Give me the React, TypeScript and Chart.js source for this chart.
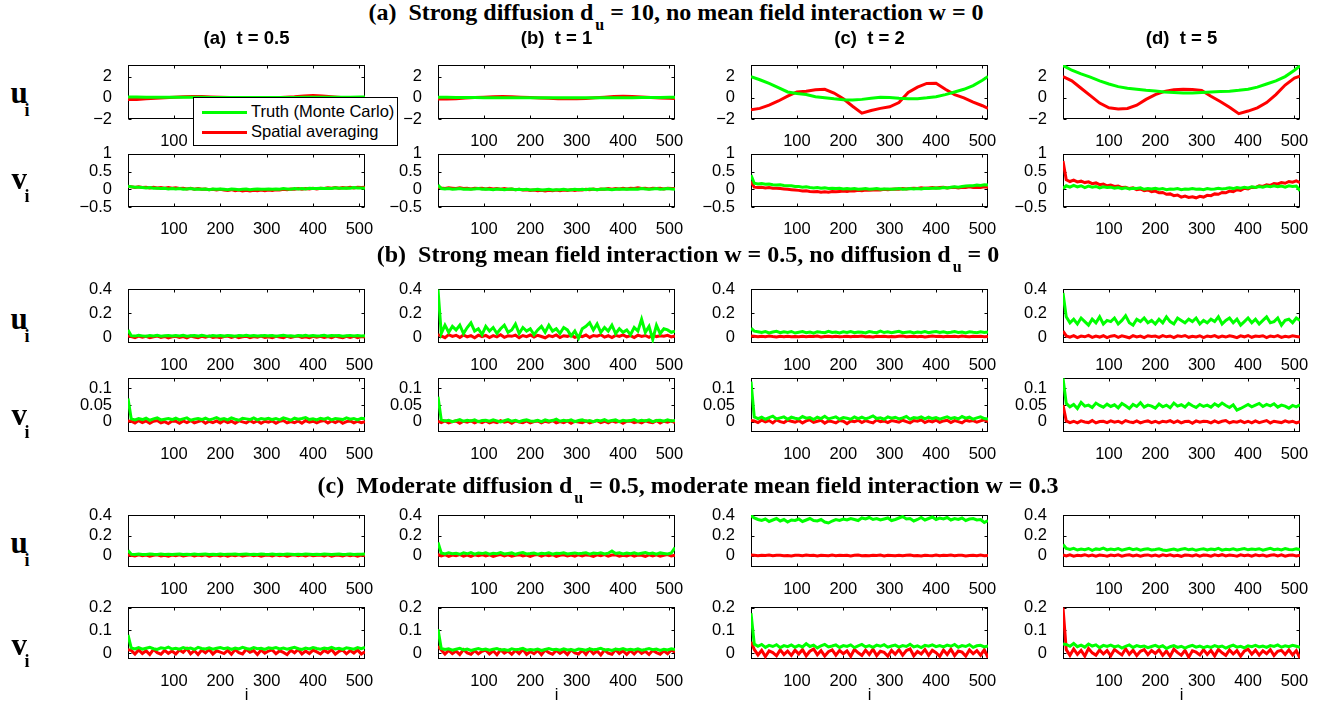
import React, { useEffect, useRef } from "react";
import { Chart, registerables } from "chart.js";

Chart.register(...registerables);

// ---------------- data ----------------
const X_SMOOTH = [1, 20, 40, 60, 80, 100, 120, 140, 160, 180, 200, 220, 240, 260, 280, 300, 320, 340, 360, 380, 400, 420, 440, 460, 480, 500, 512];
const X_NOISY = [
  1, 8, 16, 24, 32, 40, 48, 56, 64, 72, 80, 88, 96,
  104, 112, 120, 128, 136, 144, 152, 160, 168, 176, 184, 192, 200,
  208, 216, 224, 232, 240, 248, 256, 264, 272, 280, 288, 296, 304,
  312, 320, 328, 336, 344, 352, 360, 368, 376, 384, 392, 400, 408,
  416, 424, 432, 440, 448, 456, 464, 472, 480, 488, 496, 504, 512,
];
const X_TICKS = [100, 200, 300, 400, 500];
const SERIES_LABELS = ["Truth (Monte Carlo)", "Spatial averaging"];
const COL_TITLES = ["(a)  t = 0.5", "(b)  t = 1", "(c)  t = 2", "(d)  t = 5"];

// section (a): strong diffusion, u
const UA1_TRUTH = [0.08, 0.07, 0.06, 0.05, 0.05, 0.04, 0.04, 0.04, 0.04, 0.03, 0.03, 0.03, 0.02, 0.02, 0.02, 0.02, 0.03, 0.03, 0.03, 0.04, 0.04, 0.04, 0.05, 0.05, 0.06, 0.07, 0.08];
const UA1_SPAT = [-0.15, -0.15, -0.1, -0.05, 0, 0.05, 0.1, 0.12, 0.12, 0.08, 0.05, 0.02, 0, -0.02, -0.03, -0.02, 0, 0.05, 0.1, 0.18, 0.22, 0.18, 0.1, 0.02, -0.05, -0.08, -0.1];
const UA2_TRUTH = [0.05, 0.04, 0.03, 0.02, 0.02, 0.01, 0.01, 0.01, 0, 0, 0, 0, 0, 0, 0, 0, 0, 0, 0.01, 0.01, 0.01, 0.01, 0.02, 0.02, 0.03, 0.04, 0.05];
const UA2_SPAT = [-0.12, -0.12, -0.08, -0.03, 0.02, 0.06, 0.1, 0.12, 0.1, 0.06, 0.02, -0.02, -0.05, -0.08, -0.1, -0.09, -0.06, 0, 0.06, 0.12, 0.15, 0.12, 0.07, 0.02, -0.02, -0.05, -0.06];
const UA3_TRUTH = [2.0, 1.7, 1.35, 0.95, 0.55, 0.4, 0.3, 0.1, 0.0, -0.1, -0.18, -0.2, -0.15, -0.05, 0.05, 0.02, -0.05, -0.1, -0.08, 0.0, 0.1, 0.3, 0.55, 0.8, 1.15, 1.65, 2.0];
const UA3_SPAT = [-1.13, -1.0, -0.7, -0.3, 0.15, 0.55, 0.62, 0.75, 0.8, 0.45, -0.1, -0.8, -1.45, -1.2, -1.0, -0.85, -0.45, 0.5, 1.0, 1.35, 1.38, 0.8, 0.3, 0.0, -0.4, -0.75, -1.0];
const UA4_TRUTH = [3.05, 2.6, 2.25, 1.95, 1.6, 1.3, 1.05, 0.9, 0.8, 0.7, 0.65, 0.55, 0.5, 0.45, 0.45, 0.5, 0.55, 0.6, 0.62, 0.7, 0.8, 1.0, 1.3, 1.6, 2.0, 2.6, 3.0];
const UA4_SPAT = [2.0, 1.6, 0.9, 0.2, -0.5, -0.95, -1.05, -1.0, -0.7, -0.15, 0.3, 0.6, 0.75, 0.8, 0.78, 0.7, 0.15, -0.35, -0.9, -1.5, -1.25, -0.95, -0.45, 0.3, 1.2, 1.85, 2.05];

// section (a): v
const VA1_TRUTH = [
  0.09, 0.07, 0.06, 0.06, 0.05, 0.04, 0.05, 0.03, 0.03, 0.02, 0.03, 0.01, 0.02,
  0.01, 0.02, 0.0, 0.01, 0.02, 0.0, 0.01, 0.0, 0.01, -0.01, 0.01, 0.0, 0.01,
  0.0, -0.01, 0.01, 0.0, -0.01, 0.0, 0.01, -0.01, 0.0, 0.01, 0.0, 0.0, 0.01,
  0.0, 0.01, 0.0, 0.02, 0.01, 0.0, 0.02, 0.01, 0.02, 0.01, 0.03, 0.02, 0.02,
  0.03, 0.02, 0.03, 0.02, 0.04, 0.03, 0.03, 0.04, 0.03, 0.05, 0.04, 0.04, 0.03,
];
const VA1_SPAT = [
  0.08, 0.07, 0.05, 0.07, 0.05, 0.06, 0.04, 0.06, 0.04, 0.05, 0.03, 0.05, 0.03,
  0.04, 0.02, 0.03, 0.01, 0.03, 0.0, 0.02, 0.0, 0.01, -0.01, 0.0, -0.02, 0.0,
  -0.02, -0.03, -0.01, -0.04, -0.02, -0.05, -0.03, -0.05, -0.03, -0.04, -0.02, -0.04, -0.02,
  -0.03, -0.01, -0.02, 0.0, -0.01, 0.01, 0.0, 0.02, 0.0, 0.02, 0.01, 0.03, 0.01,
  0.03, 0.02, 0.04, 0.03, 0.05, 0.03, 0.05, 0.04, 0.06, 0.04, 0.06, 0.05, 0.06,
];
const VA2_TRUTH = [
  0.12, 0.02, 0.01, 0.02, 0.0, 0.01, 0.02, 0.0, 0.01, 0.0, 0.01, 0.02, 0.0,
  0.01, 0.0, -0.01, 0.01, 0.0, -0.01, 0.0, 0.01, -0.01, 0.0, -0.01, 0.0, -0.02,
  -0.01, 0.0, -0.02, -0.01, 0.0, -0.02, -0.01, -0.01, 0.0, -0.02, -0.01, 0.0, -0.01,
  0.0, -0.01, 0.01, 0.0, -0.01, 0.0, 0.01, 0.0, -0.01, 0.0, 0.01, 0.0, 0.01,
  0.0, 0.01, 0.0, 0.02, 0.01, 0.0, 0.01, 0.02, 0.0, 0.01, 0.02, 0.01, 0.0,
];
const VA2_SPAT = [
  0.06, 0.04, 0.02, 0.04, 0.03, 0.02, 0.04, 0.02, 0.03, 0.01, 0.03, 0.02, 0.03,
  0.01, 0.03, 0.01, 0.02, 0.0, 0.02, 0.0, 0.01, -0.01, 0.0, -0.02, -0.01, -0.03,
  -0.02, -0.04, -0.03, -0.05, -0.03, -0.04, -0.02, -0.04, -0.02, -0.03, -0.01, -0.03, -0.01,
  -0.02, 0.0, -0.01, 0.01, -0.01, 0.01, 0.0, 0.02, 0.0, 0.02, 0.01, 0.03, 0.01,
  0.03, 0.02, 0.04, 0.02, 0.03, 0.01, 0.03, 0.02, 0.03, 0.01, 0.03, 0.02, 0.02,
];
const VA3_TRUTH = [
  0.4, 0.17, 0.15, 0.16, 0.14, 0.15, 0.13, 0.12, 0.13, 0.11, 0.1, 0.1, 0.08,
  0.08, 0.06, 0.07, 0.05, 0.04, 0.05, 0.03, 0.04, 0.02, 0.03, 0.02, 0.03, 0.01,
  0.02, 0.01, 0.02, 0.0, 0.01, 0.02, 0.0, 0.01, 0.02, 0.0, 0.01, 0.01, 0.0,
  0.01, 0.02, 0.0, 0.01, 0.02, 0.01, 0.02, 0.01, 0.03, 0.02, 0.03, 0.04, 0.03,
  0.05, 0.04, 0.06, 0.07, 0.06, 0.08, 0.09, 0.1, 0.1, 0.12, 0.11, 0.13, 0.12,
];
const VA3_SPAT = [
  0.22, 0.06, 0.05, 0.06, 0.04, 0.05, 0.03, 0.03, 0.02, 0.01, 0.0, -0.01, -0.02,
  -0.03, -0.05, -0.04, -0.06, -0.07, -0.06, -0.08, -0.07, -0.08, -0.06, -0.07, -0.06, -0.05,
  -0.06, -0.04, -0.05, -0.03, -0.04, -0.02, -0.03, -0.02, -0.01, -0.02, 0.0, -0.01, 0.0,
  0.01, 0.0, 0.02, 0.01, 0.02, 0.03, 0.02, 0.04, 0.03, 0.04, 0.05, 0.04, 0.05,
  0.06, 0.04, 0.05, 0.06, 0.04, 0.06, 0.05, 0.07, 0.05, 0.06, 0.05, 0.07, 0.06,
];
const VA4_TRUTH = [
  0.02, 0.1, 0.06, 0.11, 0.07, 0.1, 0.05, 0.09, 0.06, 0.08, 0.04, 0.07, 0.05,
  0.06, 0.03, 0.05, 0.02, 0.04, 0.01, 0.03, 0.02, 0.04, 0.0, 0.02, 0.01, 0.03,
  0.0, 0.02, -0.01, 0.01, 0.0, 0.02, -0.01, 0.01, 0.0, 0.02, 0.0, 0.01, -0.01,
  0.02, 0.0, 0.01, 0.03, 0.01, 0.02, 0.04, 0.02, 0.05, 0.03, 0.06, 0.04, 0.07,
  0.05, 0.08, 0.06, 0.09, 0.07, 0.1, 0.07, 0.09, 0.06, 0.1, 0.08, 0.09, -0.04,
];
const VA4_SPAT = [
  0.8, 0.27, 0.22, 0.26, 0.21, 0.23, 0.19, 0.21, 0.16, 0.18, 0.13, 0.15, 0.1,
  0.12, 0.08, 0.09, 0.05, 0.06, 0.02, 0.04, -0.01, 0.01, -0.04, -0.02, -0.07, -0.05,
  -0.1, -0.09, -0.14, -0.13, -0.18, -0.16, -0.22, -0.19, -0.23, -0.21, -0.24, -0.2, -0.22,
  -0.17, -0.18, -0.13, -0.14, -0.09, -0.1, -0.05, -0.07, -0.01, -0.03, 0.03, 0.01, 0.06,
  0.05, 0.1, 0.08, 0.13, 0.11, 0.16, 0.15, 0.19, 0.17, 0.22, 0.2, 0.24, 0.19,
];

// section (b): strong mean field, u
const UB1_TRUTH = [
  0.06, 0.012, 0.008, 0.014, 0.01, 0.006, 0.012, 0.009, 0.015, 0.007, 0.011, 0.013, 0.008,
  0.012, 0.009, 0.014, 0.007, 0.011, 0.013, 0.008, 0.015, 0.01, 0.006, 0.012, 0.009, 0.013,
  0.008, 0.014, 0.011, 0.007, 0.012, 0.01, 0.015, 0.009, 0.013, 0.008, 0.011, 0.014, 0.01,
  0.013, 0.007, 0.012, 0.015, 0.009, 0.011, 0.006, 0.013, 0.01, 0.014, 0.008, 0.012, 0.009,
  0.011, 0.015, 0.008, 0.012, 0.01, 0.013, 0.007, 0.011, 0.014, 0.009, 0.012, 0.008, 0.01,
];
const UB1_SPAT = [
  0.01, 0.004, -0.005, 0.008, -0.002, 0.006, -0.006, 0.003, 0.009, -0.004, 0.005, -0.007, 0.002,
  0.007, -0.003, 0.005, -0.006, 0.008, 0.0, -0.005, 0.006, -0.002, 0.009, -0.004, 0.003, -0.006,
  0.004, 0.008, -0.003, 0.006, -0.005, 0.002, 0.007, -0.006, 0.005, -0.002, 0.008, -0.004, 0.003,
  -0.005, 0.006, 0.001, -0.006, 0.007, -0.003, 0.005, 0.008, -0.004, 0.002, -0.006, 0.006, -0.002,
  0.007, -0.004, 0.004, -0.006, 0.008, 0.0, -0.005, 0.006, -0.003, 0.007, -0.005, 0.004, 0.001,
];
const UB2_TRUTH = [
  0.4, 0.03, 0.1, 0.04, 0.09, 0.06, 0.1, 0.03, 0.08, 0.12, 0.05, 0.07, 0.02,
  0.09, 0.05, 0.08, 0.03, 0.07, 0.1, 0.04, 0.06, 0.11, 0.03, 0.08, 0.05, 0.07,
  0.02, 0.06, 0.09, 0.04, 0.1, 0.05, 0.07, 0.03, 0.08, 0.06, 0.01, 0.05, -0.01,
  0.07, 0.09, 0.12, 0.06, 0.11, 0.04, 0.08, 0.05, 0.1, 0.03, 0.07, 0.04, 0.06,
  0.02, 0.08, 0.05, 0.15, 0.04, 0.09, -0.02, 0.1, 0.03, 0.07, 0.06, 0.04, 0.05,
];
const UB2_SPAT = [
  0.02, 0.01, -0.005, 0.02, 0.005, 0.015, -0.003, 0.018, 0.002, 0.012, -0.006, 0.016, 0.004,
  0.014, -0.004, 0.012, 0.002, 0.019, -0.002, 0.01, 0.006, 0.016, -0.005, 0.013, 0.003, 0.017,
  0.0, 0.015, 0.005, -0.006, 0.012, 0.003, 0.018, -0.004, 0.011, 0.006, 0.016, -0.002, 0.009,
  0.004, 0.017, -0.003, 0.013, 0.007, 0.019, 0.0, 0.011, -0.005, 0.014, 0.005, 0.018, 0.002,
  0.012, -0.004, 0.016, 0.006, 0.013, -0.002, 0.017, 0.004, 0.011, 0.007, 0.015, 0.001, 0.01,
];
const UB3_TRUTH = [
  0.075, 0.05, 0.045, 0.038, 0.046, 0.035, 0.042, 0.048, 0.036, 0.044, 0.039, 0.047, 0.034,
  0.041, 0.046, 0.037, 0.043, 0.032, 0.045, 0.04, 0.036, 0.048, 0.038, 0.042, 0.035, 0.044,
  0.039, 0.047, 0.036, 0.043, 0.04, 0.034, 0.046, 0.041, 0.037, 0.05, 0.038, 0.044, 0.036,
  0.042, 0.048, 0.037, 0.041, 0.045, 0.035, 0.043, 0.039, 0.046, 0.036, 0.042, 0.047, 0.038,
  0.044, 0.036, 0.041, 0.047, 0.039, 0.043, 0.035, 0.045, 0.04, 0.037, 0.044, 0.038, 0.042,
];
const UB3_SPAT = [
  0.008, 0.006, 0.002, 0.007, 0.003, 0.008, 0.004, 0.001, 0.006, 0.003, 0.007, 0.002, 0.005,
  0.003, 0.007, 0.002, 0.006, 0.004, 0.008, 0.001, 0.005, 0.007, 0.003, 0.006, 0.002, 0.004,
  0.007, 0.002, 0.006, 0.004, 0.008, 0.003, 0.005, 0.001, 0.007, 0.004, 0.006, 0.002, 0.005,
  0.003, 0.006, 0.008, 0.002, 0.005, 0.007, 0.003, 0.006, 0.001, 0.005, 0.008, 0.004, 0.006,
  0.002, 0.007, 0.004, 0.006, 0.003, 0.008, 0.005, 0.002, 0.006, 0.004, 0.007, 0.003, 0.005,
];
const UB4_TRUTH = [
  0.37, 0.17, 0.12, 0.15, 0.11, 0.16, 0.13, 0.1, 0.15, 0.12, 0.17, 0.11, 0.14,
  0.13, 0.16, 0.11, 0.14, 0.18, 0.12, 0.1, 0.15, 0.13, 0.16, 0.12, 0.14, 0.11,
  0.15, 0.12, 0.17, 0.13, 0.11, 0.16, 0.14, 0.12, 0.15, 0.13, 0.16, 0.11, 0.14,
  0.12, 0.15, 0.13, 0.17, 0.11, 0.14, 0.16, 0.12, 0.15, 0.1, 0.13, 0.16, 0.12,
  0.15, 0.11, 0.14, 0.17, 0.12, 0.13, 0.16, 0.1, 0.14, 0.15, 0.12, 0.16, 0.14,
];
const UB4_SPAT = [
  0.05, 0.01, 0.0, 0.012, -0.004, 0.008, 0.002, 0.014, -0.003, 0.009, 0.0, 0.011, -0.005,
  0.007, 0.013, -0.002, 0.01, 0.003, -0.006, 0.012, 0.001, 0.008, -0.004, 0.011, 0.004, 0.009,
  -0.003, 0.012, 0.002, 0.009, -0.005, 0.01, 0.004, 0.013, -0.002, 0.007, 0.001, 0.011, -0.004,
  0.009, 0.003, 0.012, -0.003, 0.008, 0.0, 0.011, 0.005, -0.005, 0.01, 0.002, 0.013, -0.002,
  0.008, 0.004, 0.011, -0.004, 0.009, 0.002, 0.012, -0.003, 0.007, 0.001, 0.01, 0.005, 0.0,
];

// section (b): v
const VB1_TRUTH = [
  0.07, 0.009, 0.006, 0.01, 0.007, 0.011, 0.005, 0.009, 0.012, 0.006, 0.008, 0.01, 0.007,
  0.011, 0.006, 0.009, 0.012, 0.005, 0.008, 0.01, 0.007, 0.011, 0.006, 0.009, 0.013, 0.007,
  0.01, 0.006, 0.012, 0.008, 0.005, 0.011, 0.009, 0.007, 0.012, 0.006, 0.01, 0.008, 0.011,
  0.007, 0.01, 0.006, 0.012, 0.009, 0.005, 0.011, 0.008, 0.01, 0.013, 0.007, 0.009, 0.006,
  0.011, 0.008, 0.012, 0.006, 0.01, 0.009, 0.007, 0.012, 0.008, 0.01, 0.006, 0.011, 0.009,
];
const VB1_SPAT = [
  0.003, 0.002, -0.003, 0.004, -0.002, 0.003, -0.004, 0.002, 0.004, -0.003, 0.001, -0.005, 0.003,
  0.002, -0.004, 0.003, -0.002, 0.004, -0.003, 0.001, 0.004, -0.004, 0.002, -0.002, 0.003, -0.003,
  0.004, -0.002, 0.002, -0.004, 0.003, 0.0, -0.003, 0.004, -0.002, 0.003, -0.004, 0.002, -0.001,
  0.003, -0.004, 0.002, 0.004, -0.003, 0.001, -0.002, 0.003, -0.004, 0.004, -0.001, 0.002, -0.003,
  0.002, 0.004, -0.003, 0.003, -0.002, 0.004, -0.004, 0.001, 0.003, -0.003, 0.002, -0.002, 0.001,
];
const VB2_TRUTH = [
  0.075, 0.006, 0.003, 0.005, 0.001, 0.004, 0.007, 0.002, 0.005, 0.003, 0.006, 0.001, 0.004,
  0.005, 0.002, 0.006, 0.003, 0.0, 0.004, 0.007, 0.002, 0.005, 0.001, 0.004, 0.006, 0.003,
  0.002, 0.005, 0.001, 0.006, 0.003, 0.004, 0.008, 0.002, 0.005, 0.003, 0.006, 0.001, 0.004,
  0.006, 0.002, 0.004, 0.001, 0.005, 0.003, 0.007, 0.002, 0.004, 0.006, 0.001, 0.005, 0.003,
  0.004, 0.007, 0.002, 0.005, 0.003, 0.006, 0.001, 0.004, 0.005, 0.002, 0.006, 0.003, 0.004,
];
const VB2_SPAT = [
  0.002, -0.002, 0.003, -0.003, 0.001, 0.003, -0.004, 0.002, -0.001, 0.003, -0.003, 0.002, -0.002,
  0.003, -0.003, 0.001, -0.002, 0.004, -0.001, 0.002, -0.004, 0.003, 0.0, -0.002, 0.003, -0.003,
  0.001, 0.003, -0.003, 0.002, -0.001, 0.004, -0.003, 0.001, -0.002, 0.003, -0.004, 0.002, 0.0,
  -0.002, 0.003, -0.003, 0.001, 0.004, -0.002, 0.002, -0.003, 0.003, -0.001, 0.002, -0.004, 0.002,
  0.003, -0.002, 0.001, -0.003, 0.003, 0.0, -0.002, 0.004, -0.003, 0.002, -0.001, 0.003, -0.002,
];
const VB3_TRUTH = [
  0.12, 0.015, 0.01, 0.014, 0.008, 0.013, 0.017, 0.009, 0.012, 0.015, 0.008, 0.014, 0.011,
  0.009, 0.016, 0.011, 0.013, 0.007, 0.014, 0.01, 0.017, 0.009, 0.012, 0.015, 0.008, 0.013,
  0.011, 0.008, 0.015, 0.01, 0.014, 0.009, 0.013, 0.018, 0.01, 0.012, 0.008, 0.015, 0.011,
  0.014, 0.009, 0.012, 0.016, 0.008, 0.013, 0.011, 0.015, 0.009, 0.014, 0.01, 0.013, 0.008,
  0.012, 0.015, 0.01, 0.013, 0.009, 0.016, 0.011, 0.014, 0.008, 0.012, 0.015, 0.01, 0.009,
];
const VB3_SPAT = [
  0.004, 0.003, -0.002, 0.005, 0.0, 0.004, -0.003, 0.006, 0.001, -0.002, 0.005, 0.002, -0.001,
  0.004, -0.003, 0.003, 0.006, -0.001, 0.002, 0.005, -0.004, 0.003, 0.001, -0.003, 0.004, 0.002,
  -0.005, 0.003, 0.001, 0.005, -0.002, 0.004, 0.0, -0.003, 0.006, 0.001, 0.003, -0.002, 0.004,
  0.002, -0.001, 0.005, 0.001, -0.003, 0.004, 0.002, 0.006, -0.002, 0.003, 0.0, 0.005, -0.001,
  0.003, 0.005, -0.002, 0.004, 0.001, -0.003, 0.005, 0.002, 0.004, -0.001, 0.003, 0.006, 0.001,
];
const VB4_TRUTH = [
  0.13, 0.055, 0.045, 0.052, 0.04, 0.058, 0.047, 0.05, 0.043, 0.056, 0.049, 0.044, 0.053,
  0.046, 0.051, 0.042, 0.055, 0.048, 0.04, 0.052, 0.046, 0.057, 0.044, 0.05, 0.047, 0.041,
  0.053, 0.045, 0.05, 0.042, 0.056, 0.047, 0.051, 0.044, 0.055, 0.048, 0.043, 0.052, 0.046,
  0.05, 0.044, 0.054, 0.047, 0.056, 0.049, 0.043, 0.051, 0.035, 0.04, 0.046, 0.052, 0.045,
  0.05, 0.055, 0.046, 0.052, 0.048, 0.054, 0.044, 0.05, 0.047, 0.041, 0.049, 0.045, 0.051,
];
const VB4_SPAT = [
  0.05, 0.003, -0.002, 0.002, -0.003, 0.003, 0.0, -0.002, 0.004, -0.003, 0.001, 0.002, -0.002,
  0.003, -0.001, 0.002, -0.003, 0.004, 0.0, -0.002, 0.003, -0.003, 0.001, 0.003, -0.002, 0.002,
  -0.003, 0.002, 0.0, 0.004, -0.002, 0.003, -0.003, 0.001, 0.002, -0.004, 0.003, -0.001, 0.002,
  0.001, -0.003, 0.003, -0.002, 0.002, 0.004, -0.003, 0.001, -0.001, 0.003, -0.002, 0.002, -0.003,
  0.003, -0.002, 0.001, 0.004, -0.003, 0.002, 0.0, -0.002, 0.003, -0.001, 0.002, -0.003, 0.001,
];

// section (c): moderate diffusion + mean field, u
const UC1_TRUTH = [
  0.05, 0.013, 0.01, 0.014, 0.011, 0.009, 0.015, 0.012, 0.01, 0.014, 0.011, 0.013, 0.009,
  0.012, 0.015, 0.01, 0.013, 0.011, 0.014, 0.009, 0.012, 0.015, 0.01, 0.013, 0.011, 0.014,
  0.01, 0.013, 0.012, 0.015, 0.009, 0.012, 0.014, 0.011, 0.013, 0.01, 0.015, 0.012, 0.011,
  0.014, 0.01, 0.013, 0.011, 0.015, 0.012, 0.009, 0.013, 0.011, 0.014, 0.012, 0.01, 0.013,
  0.011, 0.014, 0.012, 0.01, 0.013, 0.015, 0.011, 0.012, 0.014, 0.01, 0.013, 0.012, 0.014,
];
const UC1_SPAT = [
  0.006, 0.003, -0.005, 0.006, -0.002, 0.004, -0.006, 0.002, 0.007, -0.004, 0.003, -0.007, 0.005,
  -0.003, 0.006, -0.005, 0.002, 0.007, -0.004, 0.004, -0.002, 0.006, -0.006, 0.003, 0.005, -0.004,
  0.004, -0.006, 0.005, -0.002, 0.007, -0.005, 0.002, 0.006, -0.003, 0.004, -0.007, 0.003, 0.005,
  -0.004, 0.006, -0.002, 0.005, -0.006, 0.003, 0.007, -0.003, 0.004, -0.005, 0.006, -0.002, 0.003,
  0.005, -0.004, 0.006, -0.006, 0.003, 0.002, -0.005, 0.006, -0.002, 0.004, -0.006, 0.005, 0.0,
];
const UC2_TRUTH = [
  0.13, 0.025, 0.015, 0.028, 0.018, 0.022, 0.012, 0.026, 0.017, 0.03, 0.014, 0.024, 0.019,
  0.027, 0.013, 0.023, 0.018, 0.029, 0.015, 0.021, 0.026, 0.012, 0.024, 0.03, 0.016, 0.02,
  0.025, 0.014, 0.022, 0.018, 0.027, 0.013, 0.023, 0.02, 0.028, 0.015, 0.021, 0.026, 0.017,
  0.022, 0.028, 0.014, 0.024, 0.019, 0.027, 0.015, 0.023, 0.045, 0.02, 0.026, 0.016, 0.024,
  0.018, 0.027, 0.015, 0.022, 0.029, 0.017, 0.024, 0.013, 0.026, 0.021, 0.016, 0.025, 0.08,
];
const UC2_SPAT = [
  0.01, -0.004, 0.008, -0.008, 0.005, -0.002, 0.009, -0.006, 0.004, -0.009, 0.006, -0.003, 0.008,
  -0.005, 0.007, -0.008, 0.003, 0.009, -0.004, 0.006, -0.007, 0.002, 0.008, -0.005, 0.005, -0.009,
  0.004, 0.009, -0.006, 0.006, -0.003, 0.008, -0.008, 0.003, 0.007, -0.005, 0.005, -0.007, 0.008,
  -0.004, 0.006, 0.002, -0.008, 0.007, -0.003, 0.009, -0.006, 0.004, 0.006, -0.007, 0.003, -0.004,
  0.008, -0.006, 0.005, 0.002, -0.008, 0.007, -0.004, 0.006, -0.007, 0.003, 0.009, -0.005, 0.004,
];
const UC3_TRUTH = [
  0.4, 0.375, 0.36, 0.35, 0.365, 0.34, 0.355, 0.37, 0.345, 0.36, 0.335, 0.355, 0.35,
  0.365, 0.34, 0.355, 0.37, 0.35, 0.345, 0.36, 0.335, 0.325, 0.345, 0.36, 0.35, 0.365,
  0.355, 0.37, 0.36, 0.35, 0.375, 0.365, 0.38, 0.36, 0.37, 0.355, 0.365, 0.375, 0.35,
  0.36, 0.375, 0.39, 0.365, 0.37, 0.345, 0.36, 0.38, 0.355, 0.37, 0.385, 0.36, 0.375,
  0.365, 0.38, 0.355, 0.37, 0.36, 0.375, 0.35, 0.365, 0.37, 0.355, 0.36, 0.33, 0.35,
];
const UC3_SPAT = [
  0.004, 0.002, -0.003, 0.003, -0.001, 0.004, -0.003, 0.002, 0.003, -0.002, 0.001, -0.004, 0.003,
  0.002, -0.003, 0.004, -0.001, 0.003, -0.004, 0.002, 0.0, -0.003, 0.004, -0.002, 0.003, -0.001,
  0.003, -0.004, 0.002, 0.004, -0.002, 0.001, -0.003, 0.003, -0.001, 0.004, -0.004, 0.002, 0.0,
  -0.002, 0.003, -0.003, 0.002, 0.004, -0.002, 0.001, -0.004, 0.003, 0.0, -0.002, 0.004, -0.003,
  0.002, -0.001, 0.004, -0.003, 0.002, 0.003, -0.004, 0.001, 0.003, -0.002, 0.004, -0.003, 0.001,
];
const UC4_TRUTH = [
  0.11, 0.07, 0.06, 0.072, 0.055, 0.065, 0.058, 0.07, 0.052, 0.066, 0.06, 0.073, 0.056,
  0.064, 0.057, 0.069, 0.053, 0.062, 0.071, 0.058, 0.066, 0.054, 0.063, 0.068, 0.056, 0.061,
  0.067, 0.055, 0.05, 0.058, 0.064, 0.053, 0.062, 0.07, 0.057, 0.065, 0.052, 0.061, 0.068,
  0.056, 0.064, 0.059, 0.071, 0.054, 0.063, 0.058, 0.067, 0.055, 0.062, 0.07, 0.057, 0.065,
  0.06, 0.068, 0.054, 0.063, 0.071, 0.058, 0.065, 0.056, 0.069, 0.061, 0.057, 0.066, 0.06,
];
const UC4_SPAT = [
  0.006, -0.004, 0.007, -0.006, 0.003, -0.002, 0.008, -0.005, 0.004, -0.007, 0.005, 0.001, -0.006,
  0.005, -0.003, 0.007, -0.006, 0.002, 0.008, -0.004, 0.005, -0.007, 0.003, 0.006, -0.005, 0.004,
  -0.006, 0.006, -0.002, 0.007, -0.005, 0.003, -0.008, 0.005, 0.002, -0.004, 0.007, -0.006, 0.004,
  0.003, -0.007, 0.006, -0.003, 0.008, -0.005, 0.004, 0.001, -0.006, 0.007, -0.003, 0.005, -0.007,
  0.006, -0.002, 0.005, -0.006, 0.003, 0.007, -0.004, 0.006, -0.007, 0.002, 0.005, -0.005, 0.003,
];

// section (c): v
const VC1_TRUTH = [
  0.08, 0.022, 0.018, 0.024, 0.017, 0.021, 0.025, 0.019, 0.016, 0.023, 0.02, 0.026, 0.018,
  0.021, 0.017, 0.024, 0.019, 0.022, 0.016, 0.025, 0.02, 0.018, 0.023, 0.017, 0.021, 0.024,
  0.019, 0.023, 0.016, 0.022, 0.018, 0.025, 0.02, 0.017, 0.024, 0.019, 0.021, 0.016, 0.023,
  0.02, 0.024, 0.018, 0.022, 0.017, 0.021, 0.025, 0.019, 0.016, 0.022, 0.018, 0.024, 0.02,
  0.017, 0.022, 0.019, 0.025, 0.018, 0.021, 0.016, 0.023, 0.02, 0.017, 0.024, 0.019, 0.025,
];
const VC1_SPAT = [
  0.015, 0.012, -0.004, 0.014, -0.002, 0.01, -0.006, 0.016, 0.002, -0.005, 0.012, -0.001, 0.009,
  -0.004, 0.014, 0.003, 0.02, -0.003, 0.011, -0.006, 0.013, 0.001, 0.016, -0.004, 0.01, 0.004,
  -0.002, 0.012, -0.005, 0.015, 0.002, -0.004, 0.017, 0.004, 0.011, -0.006, 0.013, 0.0, 0.009,
  0.014, -0.003, 0.01, 0.003, -0.007, 0.012, 0.001, 0.016, -0.004, 0.009, -0.002, 0.013, 0.005,
  -0.004, 0.012, 0.002, 0.015, -0.005, 0.008, 0.013, -0.003, 0.011, 0.0, 0.014, -0.004, 0.006,
];
const VC2_TRUTH = [
  0.105, 0.02, 0.016, 0.019, 0.013, 0.017, 0.021, 0.014, 0.018, 0.012, 0.016, 0.02, 0.015,
  0.018, 0.013, 0.017, 0.02, 0.014, 0.016, 0.012, 0.019, 0.015, 0.017, 0.021, 0.013, 0.016,
  0.014, 0.018, 0.012, 0.016, 0.02, 0.015, 0.017, 0.013, 0.019, 0.014, 0.016, 0.012, 0.018,
  0.016, 0.013, 0.019, 0.015, 0.017, 0.021, 0.014, 0.016, 0.012, 0.018, 0.015, 0.02, 0.014,
  0.017, 0.014, 0.019, 0.013, 0.016, 0.02, 0.015, 0.018, 0.012, 0.017, 0.014, 0.019, 0.016,
];
const VC2_SPAT = [
  0.03, 0.014, -0.004, 0.012, -0.002, 0.009, -0.006, 0.015, 0.001, -0.005, 0.011, -0.003, 0.008,
  0.013, -0.004, 0.01, -0.007, 0.014, 0.0, 0.009, -0.005, 0.012, -0.002, 0.016, -0.006, 0.007,
  -0.003, 0.011, -0.007, 0.013, 0.002, -0.005, 0.012, -0.001, 0.009, -0.006, 0.014, 0.001, -0.004,
  0.012, -0.006, 0.016, -0.003, 0.009, -0.008, 0.013, 0.0, -0.005, 0.015, -0.002, 0.01, -0.006,
  0.011, -0.004, 0.013, -0.001, 0.008, -0.006, 0.012, 0.002, -0.005, 0.01, -0.003, 0.014, 0.004,
];
const VC3_TRUTH = [
  0.175, 0.04, 0.03, 0.038, 0.025, 0.034, 0.029, 0.037, 0.024, 0.033, 0.028, 0.036, 0.026,
  0.034, 0.027, 0.041, 0.029, 0.035, 0.023, 0.032, 0.038, 0.027, 0.031, 0.036, 0.025, 0.033,
  0.029, 0.036, 0.024, 0.032, 0.038, 0.027, 0.033, 0.025, 0.035, 0.03, 0.037, 0.026, 0.031,
  0.035, 0.026, 0.033, 0.029, 0.039, 0.027, 0.032, 0.024, 0.034, 0.03, 0.036, 0.028, 0.033,
  0.027, 0.035, 0.03, 0.038, 0.026, 0.033, 0.029, 0.037, 0.025, 0.032, 0.034, 0.027, 0.031,
];
const VC3_SPAT = [
  0.05, 0.016, -0.008, 0.012, -0.015, 0.01, 0.002, -0.012, 0.014, -0.006, 0.009, -0.01, 0.013,
  -0.004, 0.015, -0.012, 0.008, 0.018, -0.007, 0.011, -0.013, 0.006, 0.014, -0.009, 0.012, -0.003,
  0.01, -0.014, 0.016, 0.001, -0.01, 0.013, -0.006, 0.017, -0.011, 0.008, 0.003, -0.013, 0.012,
  -0.005, 0.015, -0.009, 0.011, 0.018, -0.012, 0.007, -0.004, 0.016, -0.01, 0.012, 0.002, -0.014,
  0.013, -0.006, 0.017, -0.011, 0.009, 0.004, -0.013, 0.014, -0.003, 0.011, -0.009, 0.015, -0.02,
];
const VC4_TRUTH = [
  0.04, 0.038, 0.03, 0.042, 0.028, 0.035, 0.026, 0.04, 0.031, 0.036, 0.024, 0.034, 0.029,
  0.035, 0.027, 0.032, 0.022, 0.03, 0.036, 0.025, 0.033, 0.028, 0.031, 0.024, 0.029, 0.034,
  0.026, 0.032, 0.02, 0.028, 0.033, 0.025, 0.03, 0.022, 0.029, 0.034, 0.026, 0.031, 0.024,
  0.03, 0.025, 0.033, 0.027, 0.031, 0.022, 0.029, 0.035, 0.026, 0.03, 0.023, 0.032, 0.028,
  0.034, 0.027, 0.031, 0.025, 0.033, 0.029, 0.036, 0.026, 0.032, 0.028, 0.034, 0.03, 0.025,
];
const VC4_SPAT = [
  0.2, 0.015, -0.01, 0.018, -0.006, 0.012, -0.013, 0.02, 0.001, -0.009, 0.014, -0.004, 0.011,
  -0.012, 0.016, 0.003, -0.008, 0.019, -0.005, 0.013, -0.011, 0.008, 0.015, -0.007, 0.011, -0.002,
  0.014, -0.01, 0.009, -0.014, 0.017, 0.002, -0.009, 0.012, -0.018, 0.01, 0.004, -0.008, 0.015,
  -0.006, 0.012, -0.012, 0.016, 0.001, -0.01, 0.014, -0.004, 0.011, -0.013, 0.009, 0.017, -0.005,
  0.013, -0.009, 0.01, -0.003, 0.015, -0.011, 0.008, 0.012, -0.006, 0.014, -0.008, 0.011, -0.022,
];

// per-row axis settings
const ROW_Y_RANGE = [[-2, 3.1], [-0.5, 1], [-0.05, 0.405], [-0.03, 0.131], [-0.115, 0.406], [-0.026, 0.203]];
const ROW_Y_TICKS = [[-2, 0, 2], [-0.5, 0, 0.5, 1], [0, 0.2, 0.4], [0, 0.05, 0.1], [0, 0.2, 0.4], [0, 0.1, 0.2]];
const ROW_VAR = ["u", "v", "u", "v", "u", "v"];

// ---------------- layout ----------------
const COL_LEFT = [128, 438, 751, 1063];
const COL_WIDTH = 237;
const ROW_TOP = [59, 148, 283, 372, 509, 601];
const ROW_HEIGHT = [60, 59, 60, 60, 58, 58];
const ROW_LABEL_CY = [96.3, 181.7, 321.7, 418, 545.8, 647.5];
const PAD_L = 62, PAD_T = 12, PAD_R = 16, PAD_B = 28;

const SANS = "'Liberation Sans', Arial, Helvetica, sans-serif";
const SERIF = "'Liberation Serif', 'Times New Roman', serif";
const GREEN = "#00ff00";
const RED = "#ff0000";
const LINE_W = 3;
const TICK_FONT = 16.5;
const TITLE_FONT = 24;

type PanelDef = { row: number; col: number; xs: number[]; truth: number[]; spat: number[] };

const PANELS: PanelDef[] = [
  { row: 0, col: 0, xs: X_SMOOTH, truth: UA1_TRUTH, spat: UA1_SPAT },
  { row: 0, col: 1, xs: X_SMOOTH, truth: UA2_TRUTH, spat: UA2_SPAT },
  { row: 0, col: 2, xs: X_SMOOTH, truth: UA3_TRUTH, spat: UA3_SPAT },
  { row: 0, col: 3, xs: X_SMOOTH, truth: UA4_TRUTH, spat: UA4_SPAT },
  { row: 1, col: 0, xs: X_NOISY, truth: VA1_TRUTH, spat: VA1_SPAT },
  { row: 1, col: 1, xs: X_NOISY, truth: VA2_TRUTH, spat: VA2_SPAT },
  { row: 1, col: 2, xs: X_NOISY, truth: VA3_TRUTH, spat: VA3_SPAT },
  { row: 1, col: 3, xs: X_NOISY, truth: VA4_TRUTH, spat: VA4_SPAT },
  { row: 2, col: 0, xs: X_NOISY, truth: UB1_TRUTH, spat: UB1_SPAT },
  { row: 2, col: 1, xs: X_NOISY, truth: UB2_TRUTH, spat: UB2_SPAT },
  { row: 2, col: 2, xs: X_NOISY, truth: UB3_TRUTH, spat: UB3_SPAT },
  { row: 2, col: 3, xs: X_NOISY, truth: UB4_TRUTH, spat: UB4_SPAT },
  { row: 3, col: 0, xs: X_NOISY, truth: VB1_TRUTH, spat: VB1_SPAT },
  { row: 3, col: 1, xs: X_NOISY, truth: VB2_TRUTH, spat: VB2_SPAT },
  { row: 3, col: 2, xs: X_NOISY, truth: VB3_TRUTH, spat: VB3_SPAT },
  { row: 3, col: 3, xs: X_NOISY, truth: VB4_TRUTH, spat: VB4_SPAT },
  { row: 4, col: 0, xs: X_NOISY, truth: UC1_TRUTH, spat: UC1_SPAT },
  { row: 4, col: 1, xs: X_NOISY, truth: UC2_TRUTH, spat: UC2_SPAT },
  { row: 4, col: 2, xs: X_NOISY, truth: UC3_TRUTH, spat: UC3_SPAT },
  { row: 4, col: 3, xs: X_NOISY, truth: UC4_TRUTH, spat: UC4_SPAT },
  { row: 5, col: 0, xs: X_NOISY, truth: VC1_TRUTH, spat: VC1_SPAT },
  { row: 5, col: 1, xs: X_NOISY, truth: VC2_TRUTH, spat: VC2_SPAT },
  { row: 5, col: 2, xs: X_NOISY, truth: VC3_TRUTH, spat: VC3_SPAT },
  { row: 5, col: 3, xs: X_NOISY, truth: VC4_TRUTH, spat: VC4_SPAT },
];

const fmtTick = (v: number) => (v < 0 ? "\u2212" + String(Math.abs(v)) : String(v));

const boxPlugin = {
  id: "matlabBox",
  beforeDatasetsDraw(chart: any) {
    const { ctx, chartArea: a, scales } = chart;
    const L = Math.round(a.left) + 0.5;
    const R = Math.round(a.right) - 0.5;
    const T = Math.round(a.top) + 0.5;
    const B = Math.round(a.bottom) - 0.5;
    const tl = 3;
    ctx.save();
    ctx.strokeStyle = "#000";
    ctx.lineWidth = 1;
    ctx.strokeRect(L, T, R - L, B - T);
    ctx.beginPath();
    for (const t of scales.x.ticks) {
      const px = Math.round(scales.x.getPixelForValue(t.value)) + 0.5;
      ctx.moveTo(px, B); ctx.lineTo(px, B - tl);
      ctx.moveTo(px, T); ctx.lineTo(px, T + tl);
    }
    for (const t of scales.y.ticks) {
      const py = Math.round(scales.y.getPixelForValue(t.value)) + 0.5;
      ctx.moveTo(L, py); ctx.lineTo(L + tl, py);
      ctx.moveTo(R, py); ctx.lineTo(R - tl, py);
    }
    ctx.stroke();
    ctx.restore();
  },
};

function Panel({ p }: { p: PanelDef }) {
  const ref = useRef<HTMLCanvasElement | null>(null);
  const cw = COL_WIDTH + PAD_L + PAD_R;
  const ch = ROW_HEIGHT[p.row] + PAD_T + PAD_B;
  useEffect(() => {
    const canvas = ref.current;
    if (!canvas) return;
    const [ymin, ymax] = ROW_Y_RANGE[p.row];
    const yTicks = ROW_Y_TICKS[p.row];
    const chart = new Chart(canvas, {
      type: "line",
      data: {
        datasets: [
          { label: SERIES_LABELS[0], data: p.xs.map((x, i) => ({ x, y: p.truth[i] })), borderColor: GREEN, backgroundColor: GREEN, borderWidth: LINE_W, pointRadius: 0, tension: 0, fill: false },
          { label: SERIES_LABELS[1], data: p.xs.map((x, i) => ({ x, y: p.spat[i] })), borderColor: RED, backgroundColor: RED, borderWidth: LINE_W, pointRadius: 0, tension: 0, fill: false },
        ],
      },
      options: {
        animation: false,
        responsive: false,
        devicePixelRatio: 1,
        events: [],
        layout: { padding: { left: 0, top: PAD_T, right: PAD_R, bottom: 0 } },
        plugins: { legend: { display: false }, tooltip: { enabled: false }, title: { display: false } },
        scales: {
          x: {
            type: "linear",
            min: 1,
            max: 512,
            grid: { display: false },
            border: { display: false },
            afterBuildTicks: (axis: any) => { axis.ticks = X_TICKS.map((v) => ({ value: v })); },
            afterFit: (axis: any) => { axis.height = PAD_B; },
            ticks: { color: "#000", padding: 5, maxRotation: 0, autoSkip: false, font: { family: SANS, size: TICK_FONT } },
          },
          y: {
            type: "linear",
            min: ymin,
            max: ymax,
            grid: { display: false },
            border: { display: false },
            afterBuildTicks: (axis: any) => { axis.ticks = yTicks.map((v) => ({ value: v })); },
            afterFit: (axis: any) => { axis.width = PAD_L; },
            ticks: { color: "#000", padding: 8, autoSkip: false, font: { family: SANS, size: TICK_FONT }, callback: (v: any) => fmtTick(Number(v)) },
          },
        },
      } as any,
      plugins: [boxPlugin],
    });
    return () => chart.destroy();
  }, []);
  return (
    <canvas
      ref={ref}
      width={cw}
      height={ch}
      style={{ position: "absolute", left: COL_LEFT[p.col] - PAD_L, top: ROW_TOP[p.row] - PAD_T, width: cw, height: ch }}
    />
  );
}

function Txt(props: { x: number; y: number; size: number; family: string; bold?: boolean; center?: boolean; children: React.ReactNode }) {
  const asc = props.family === SERIF ? 0.8375 : 0.8465;
  return (
    <div
      style={{
        position: "absolute",
        left: props.x,
        top: props.y - asc * props.size,
        fontFamily: props.family,
        fontSize: props.size,
        lineHeight: `${props.size}px`,
        fontWeight: props.bold ? "bold" : "normal",
        whiteSpace: "pre",
        color: "#000",
        transform: props.center ? "translateX(-50%)" : undefined,
        zIndex: 3,
      }}
    >
      {props.children}
    </div>
  );
}

const Sub = ({ children }: { children: React.ReactNode }) => (
  <span style={{ fontSize: 16, position: "relative", top: 10, marginLeft: 2, lineHeight: 0 }}>{children}</span>
);

export default function App() {
  useEffect(() => {
    document.body.style.margin = "0";
  }, []);
  return (
    <div style={{ position: "absolute", left: 0, top: 0, width: 1319, height: 704, overflow: "hidden", background: "#fff" }}>
      {PANELS.map((p) => (
        <Panel key={`${p.row}-${p.col}`} p={p} />
      ))}

      {/* section titles */}
      <Txt x={676} y={20.5} size={TITLE_FONT} family={SERIF} bold center>
        {"(a)  Strong diffusion d"}<Sub>u</Sub>{" = 10, no mean field interaction w = 0"}
      </Txt>
      <Txt x={688} y={262} size={TITLE_FONT} family={SERIF} bold center>
        {"(b)  Strong mean field interaction w = 0.5, no diffusion d"}<Sub>u</Sub>{" = 0"}
      </Txt>
      <Txt x={688} y={493} size={TITLE_FONT} family={SERIF} bold center>
        {"(c)  Moderate diffusion d"}<Sub>u</Sub>{" = 0.5, moderate mean field interaction w = 0.3"}
      </Txt>

      {/* column titles */}
      {COL_TITLES.map((t, c) => (
        <Txt key={t} x={COL_LEFT[c] + COL_WIDTH / 2} y={45} size={18.5} family={SANS} bold center>
          {t}
        </Txt>
      ))}

      {/* row labels u_i / v_i */}
      {ROW_VAR.map((v, r) => (
        <React.Fragment key={`lab${r}`}>
          <Txt x={19.2} y={ROW_LABEL_CY[r] + 7} size={31} family={SERIF} bold center>{v}</Txt>
          <Txt x={27} y={ROW_LABEL_CY[r] + 20} size={18} family={SERIF} bold center>{"i"}</Txt>
        </React.Fragment>
      ))}

      {/* x labels */}
      {COL_LEFT.map((l, c) => (
        <Txt key={`xl${c}`} x={l + COL_WIDTH / 2} y={700} size={16.5} family={SANS} center>{"i"}</Txt>
      ))}

      {/* legend */}
      <div style={{ position: "absolute", left: 193, top: 97, width: 205, height: 49, border: "1px solid #000", boxSizing: "border-box", background: "#fff", zIndex: 5 }}>
        <div style={{ position: "absolute", left: 8, top: 12.5, width: 45, height: LINE_W, background: GREEN }} />
        <div style={{ position: "absolute", left: 8, top: 32.5, width: 45, height: LINE_W, background: RED }} />
        <div style={{ position: "absolute", left: 57, top: 18.8 - 0.8465 * TICK_FONT, fontFamily: SANS, fontSize: TICK_FONT, lineHeight: `${TICK_FONT}px`, whiteSpace: "pre" }}>{SERIES_LABELS[0]}</div>
        <div style={{ position: "absolute", left: 57, top: 38.8 - 0.8465 * TICK_FONT, fontFamily: SANS, fontSize: TICK_FONT, lineHeight: `${TICK_FONT}px`, whiteSpace: "pre" }}>{SERIES_LABELS[1]}</div>
      </div>
    </div>
  );
}
